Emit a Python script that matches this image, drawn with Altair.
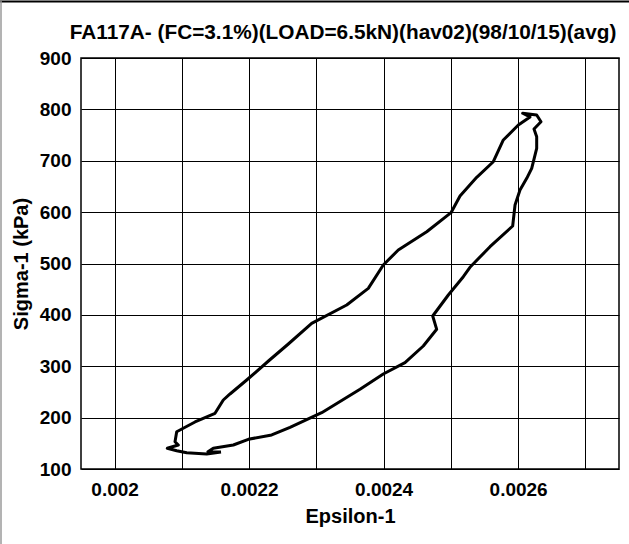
import altair as alt
import pandas as pd

# Hysteresis loop: axial strain (Epsilon-1) vs. axial stress (Sigma-1, kPa)
epsilon_1 = [
    0.0021582, 0.0021369, 0.0021072, 0.0020923, 0.0020783, 0.0020947, 0.0020898,
    0.0020923, 0.0021195, 0.0021493, 0.0021616, 0.0021716, 0.0021964, 0.0022296,
    0.0022583, 0.0022930, 0.0023451, 0.0023772, 0.0023995, 0.0024218, 0.0024641,
    0.0025002, 0.0025136, 0.0025384, 0.0025631, 0.0025780, 0.0026003, 0.0026177,
    0.0026068, 0.0026276, 0.0026340, 0.0026236, 0.0026276, 0.0026276, 0.0026202,
    0.0026128, 0.0026028, 0.0025954, 0.0025919, 0.0025582, 0.0025284, 0.0025185,
    0.0024962, 0.0024730, 0.0024789, 0.0024590, 0.0024318, 0.0023995, 0.0023649,
    0.0023079, 0.0022608, 0.0022336, 0.0021988, 0.0021765, 0.0021467, 0.0021388,
    0.0021582,
]
sigma_1 = [
    133.1, 129.2, 131.7, 135.6, 140.3, 146.7, 153.1,
    172.6, 191.5, 208.4, 234.3, 246.0, 273.2, 311.2,
    343.3, 383.6, 419.2, 451.7, 497.1, 526.3, 561.9,
    598.9, 631.4, 667.8, 698.1, 740.4, 769.6, 785.2,
    792.4, 789.0, 776.0, 761.8, 746.8, 724.2, 685.3,
    665.8, 643.1, 613.9, 573.0, 532.7, 492.6, 474.3,
    438.7, 397.8, 371.9, 339.4, 306.9, 284.9, 255.1,
    209.6, 181.2, 166.2, 157.8, 146.7, 140.3, 133.7,
    133.1,
]

x_grid = [0.002, 0.0021, 0.0022, 0.0023, 0.0024, 0.0025, 0.0026, 0.0027]
y_grid = [100, 200, 300, 400, 500, 600, 700, 800, 900]

chart_title = ["FA117A- (FC=3.1%)(LOAD=6.5kN)(hav02)(98/10/15)(avg)"]

df = pd.DataFrame({"eps": epsilon_1, "sig": sigma_1, "step": range(len(epsilon_1))})
title_df = pd.DataFrame({"t": chart_title})

FONT = "Liberation Sans"

line = alt.Chart(df).mark_line(color="black", strokeWidth=3, strokeJoin="round").encode(
    x=alt.X(
        "eps:Q",
        scale=alt.Scale(domain=[0.00195, 0.00275], nice=False, zero=False),
        axis=alt.Axis(
            values=x_grid,
            format="~g",
            labelExpr="round(datum.value * 10000) % 2 == 0 ? datum.label : ''",
            title="Epsilon-1",
            titlePadding=7,
            labelPadding=11,
        ),
    ),
    y=alt.Y(
        "sig:Q",
        scale=alt.Scale(domain=[100, 900], nice=False, zero=False),
        axis=alt.Axis(values=y_grid, title="Sigma-1 (kPa)", titlePadding=8, labelPadding=10),
    ),
    order="step:Q",
)

# chart heading, drawn as a text mark above the plot area
heading = alt.Chart(title_df).mark_text(
    font=FONT, fontSize=20.8, fontWeight="bold", color="black",
    align="center", baseline="middle",
).encode(text="t:N", x=alt.value(262), y=alt.value(-25))

# outer chart frame edges (top and left)
frame_top = alt.Chart(title_df).mark_rule(color="black", strokeWidth=2).encode(
    x=alt.value(-81), x2=alt.value(548), y=alt.value(-56.5)
)
frame_left = alt.Chart(title_df).mark_rule(color="#9a9a9a", strokeWidth=1.5).encode(
    x=alt.value(-80), y=alt.value(-57), y2=alt.value(486)
)

chart = (
    alt.layer(line, heading, frame_top, frame_left)
    .properties(
        width=538,
        height=411,
        background="white",
        autosize=alt.AutoSizeParams(type="none"),
        padding={"left": 81, "top": 58, "right": 10, "bottom": 75},
    )
    .configure_view(stroke="black", strokeWidth=1.5)
    .configure_axis(
        grid=True,
        gridColor="black",
        gridWidth=1,
        gridOpacity=1,
        domain=False,
        ticks=False,
        labelFont=FONT,
        labelFontSize=19,
        labelFontWeight="bold",
        labelColor="black",
        titleFont=FONT,
        titleFontSize=20,
        titleFontWeight="bold",
        titleColor="black",
        labelOverlap=False,
    )
)

chart.save("out.html", embed_options={"renderer": "svg", "actions": False})
